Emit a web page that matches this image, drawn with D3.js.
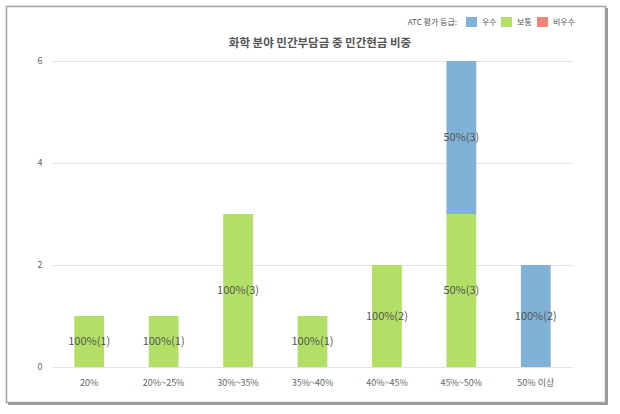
<!DOCTYPE html>
<html><head><meta charset="utf-8">
<script src="https://cdn.jsdelivr.net/npm/d3@7"></script>
<style>
body{margin:0;background:#fff;}
text{font-family:"Noto Sans CJK KR","Malgun Gothic",sans-serif;}
</style></head>
<body><svg id="c" width="620" height="414"></svg>
<script>
const categories = ["20%","20%~25%","30%~35%","35%~40%","40%~45%","45%~50%","50% 이상"];
const seriesNames = ["우수","보통","비우수"];
const seriesColors = ["#7fb2d6","#b3df66","#f2857b"];
const excellent = [0,0,0,0,0,3,2];
const normal = [1,1,3,1,2,3,0];
const poor = [0,0,0,0,0,0,0];
const yTicks = [0,2,4,6];
const title = "화학 분야 민간부담금 중 민간현금 비중";
const legendTitle = "ATC 평가 등급:";

const svg = d3.select("#c");
// frame with shadow
svg.append("rect").attr("x",8).attr("y",8).attr("width",600).attr("height",397).attr("fill","#9a9a9a");
svg.append("rect").attr("x",6.5).attr("y",6.5).attr("width",599).attr("height",396).attr("fill","#fff").attr("stroke","#a0a0a0").attr("stroke-width",1.5);

const x = d3.scaleBand().domain(categories).range([52,573]).paddingInner(0.6).paddingOuter(0.3);
const y = d3.scaleLinear().domain([0,6]).range([367,61]);

// grid
svg.append("g").selectAll("line").data(yTicks).join("line")
  .attr("x1",52).attr("x2",573).attr("y1",d=>y(d)+0.5).attr("y2",d=>y(d)+0.5)
  .attr("stroke","#e3e3e3").attr("stroke-width",1);
svg.append("g").selectAll("text").data(yTicks).join("text")
  .attr("x",40).attr("y",d=>y(d)).attr("dy","0.35em").attr("text-anchor","middle")
  .attr("font-size",9).attr("fill","#666").text(d=>d);

// stacked data: order bottom normal, then excellent on top, then poor
const rows = categories.map((c,i)=>({cat:c, "보통":normal[i], "우수":excellent[i], "비우수":poor[i]}));
const stack = d3.stack().keys(["보통","우수","비우수"])(rows);
const colorOf = k => seriesColors[seriesNames.indexOf(k)];

const g = svg.append("g");
stack.forEach(layer=>{
  layer.forEach((d,i)=>{
    const v = d[1]-d[0];
    if(v<=0) return;
    g.append("rect").attr("x",x(categories[i])).attr("width",x.bandwidth())
      .attr("y",y(d[1])).attr("height",y(d[0])-y(d[1])).attr("fill",colorOf(layer.key));
  });
});
stack.forEach(layer=>{
  layer.forEach((d,i)=>{
    const v = d[1]-d[0];
    if(v<=0) return;
    const total = normal[i]+excellent[i]+poor[i];
    const pct = Math.round(v/total*100);
    g.append("text").attr("x",x(categories[i])+x.bandwidth()/2).attr("y",(y(d[0])+y(d[1]))/2)
      .attr("dy","0.35em").attr("text-anchor","middle").attr("font-size",11).attr("fill","#555")
      .text(pct+"%("+v+")");
  });
});

// x labels
svg.append("g").selectAll("text").data(categories).join("text")
  .attr("x",d=>x(d)+x.bandwidth()/2).attr("y",383).attr("dy","0.35em").attr("text-anchor","middle")
  .attr("font-size",9).attr("fill","#666").text(d=>d);

// title
svg.append("text").attr("x",320).attr("y",43).attr("dy","0.35em").attr("text-anchor","middle")
  .attr("font-size",11.5).attr("font-weight","bold").attr("fill","#555").text(title);

// legend
svg.append("text").attr("x",457).attr("y",22).attr("dy","0.35em").attr("text-anchor","end")
  .attr("font-size",8).attr("fill","#555").text(legendTitle);
const legX = [466,501,537];
seriesNames.forEach((s,i)=>{
  svg.append("rect").attr("x",legX[i]).attr("y",17).attr("width",11).attr("height",10).attr("fill",seriesColors[i]);
  svg.append("text").attr("x",legX[i]+16).attr("y",22).attr("dy","0.35em").attr("font-size",8).attr("fill","#555").text(s);
});
</script></body></html>
